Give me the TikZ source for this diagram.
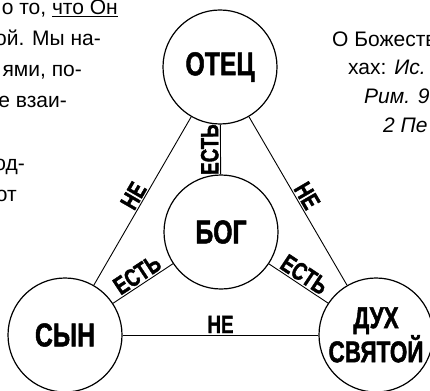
\documentclass[tikz,border=0pt]{standalone}
\usepackage{fontspec}
\setmainfont{Liberation Sans}
\newfontfamily\condb[FakeStretch=0.75,FakeBold=1.5]{Liberation Sans Bold}
\begin{document}
\begin{tikzpicture}[x=1pt,y=-1pt,
  person/.style={circle,draw,line width=1.2pt,minimum size=114pt,inner sep=0pt,
    font=\condb\fontsize{33}{33}\selectfont},
  conn/.style={line width=0.9pt},
  lab/.style={sloped,above,inner sep=1.5pt,font=\condb\fontsize{25}{25}\selectfont},
  body/.style={inner sep=0pt,font=\fontsize{21}{22}\selectfont}]
\useasboundingbox (0,0) rectangle (430,390);
\clip (0,0) rectangle (430,390);
% left text
\node[body,anchor=base east] (l1) at (118,15) {о то, \underline{что Он}};
\node[body,anchor=base east] (l2) at (101,46) {ой. Мы на-};
\node[body,anchor=base east] (l3) at (82,77) {ями, по-};
\node[body,anchor=base east] (l4) at (67,108) {е взаи-};
\node[body,anchor=base east] (l5) at (25,170) {од-};
\node[body,anchor=base east] (l6) at (17,201) {от};
% right text
\node[body,anchor=base west] (r1) at (332,47) {О Божеств};
\node[body,anchor=base west] (r2) at (348,75) {хах: \textit{Ис.}};
\node[body,anchor=base west] (r3) at (364,104) {\textit{Рим. 9.}};
\node[body,anchor=base west] (r4) at (383,133) {\textit{2 Пе}};
% persons
\node[person] (f) at (220,67) {ОТЕЦ};
\node[person] (g) at (221,232) {БОГ};
\node[person] (s) at (65,335) {СЫН};
\node[person,align=center,font=\condb\fontsize{30}{31}\selectfont] (h) at (376,335) {ДУХ\\СВЯТОЙ};
% connectors
\draw[conn] (g) -- node[lab,allow upside down] {ЕСТЬ} (f);
\draw[conn] (s) -- node[lab] {ЕСТЬ} (g);
\draw[conn] (g) -- node[lab] {ЕСТЬ} (h);
\draw[conn] (s) -- node[lab] {НЕ} (f);
\draw[conn] (f) -- node[lab] {НЕ} (h);
\draw[conn] (s) -- node[lab] {НЕ} (h);
\end{tikzpicture}
\end{document}
